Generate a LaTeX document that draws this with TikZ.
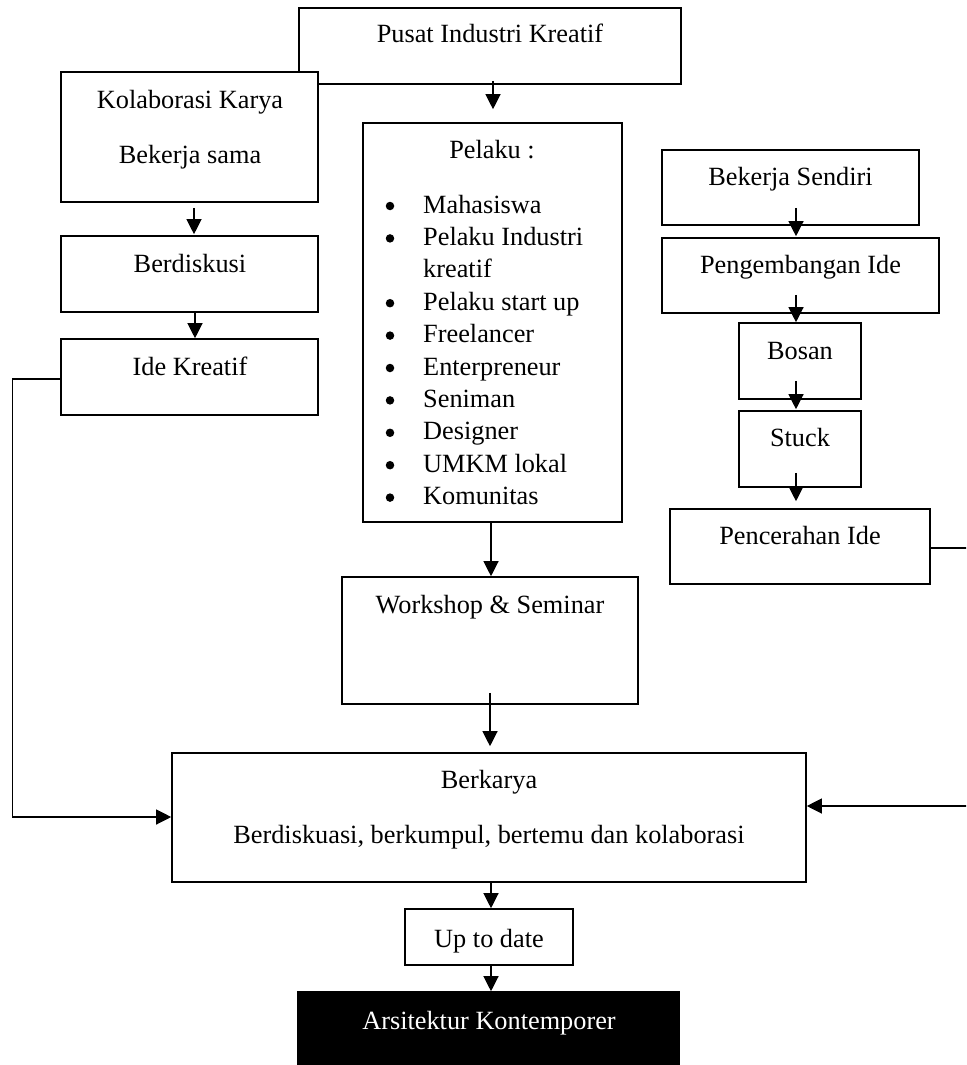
\documentclass[tikz,border=0pt]{standalone}
\usepackage{fontspec}
\setmainfont{Liberation Serif}
\usetikzlibrary{arrows.meta,fit}
\tikzset{
  box/.style={draw, line width=1.6pt, fill=white, inner sep=0pt},
  arr/.style={line width=1.2pt, -{Triangle[length=15pt,width=15pt]}},
  txt/.style={anchor=base, inner sep=0pt, font=\fontsize{26.3}{32}\selectfont},
  itm/.style={anchor=base west, inner sep=0pt, font=\fontsize{26.3}{32}\selectfont},
  bul/.style={circle, fill=black, inner sep=0pt, minimum size=8.5pt},
}
\begin{document}
\begin{tikzpicture}[x=1pt,y=-1pt]
\useasboundingbox (0,0) rectangle (966,1065);
\clip (0,0) rectangle (966,1065);

% boxes
\node[box, fit={(299,8)(681,84)}] (pusat) {};
\node[box, fit={(61,72)(318,202)}] (kolab) {};
\node[box, fit={(363,123)(622,522)}] (pelaku) {};
\node[box, fit={(61,236)(318,312)}] (diskusi) {};
\node[box, fit={(61,339)(318,415)}] (ide) {};
\node[box, fit={(662,150)(919,225)}] (sendiri) {};
\node[box, fit={(662,238)(939,313)}] (kembang) {};
\node[box, fit={(739,323)(861,399)}] (bosan) {};
\node[box, fit={(739,411)(861,487)}] (stuck) {};
\node[box, fit={(670,509)(930,584)}] (cerah) {};
\node[box, fit={(342,577)(638,704)}] (workshop) {};
\node[box, fit={(172,753)(806,882)}] (berkarya) {};
\node[box, fit={(405,909)(573,965)}] (uptodate) {};
\node[box, fit={(298,992)(679,1075)}, fill=black] (arsi) {};

% texts
\node[txt] (tpusat) at (490,43) {Pusat Industri Kreatif};
\node[txt] (tkolab1) at (190,108) {Kolaborasi Karya};
\node[txt] (tkolab2) at (190,163) {Bekerja sama};
\node[txt] (tdiskusi) at (190,272) {Berdiskusi};
\node[txt] (tide) at (190,375) {Ide Kreatif};
\node[txt] (tpelaku) at (492,158) {Pelaku :};
\foreach \i/\t/\b in {0/Mahasiswa/1, 1/Pelaku Industri/1, 2/kreatif/0, 3/Pelaku start up/1,
  4/Freelancer/1, 5/Enterpreneur/1, 6/Seniman/1, 7/Designer/1, 8/UMKM lokal/1, 9/Komunitas/1}{
  \node[itm] (item\i) at (423,213+32.4*\i) {\t};
  \ifnum\b=1 \node[bul] (bul\i) at (390,206+32.4*\i) {}; \fi
}
\node[txt] (tsendiri) at (790.5,185) {Bekerja Sendiri};
\node[txt] (tkembang) at (800.5,273) {Pengembangan Ide};
\node[txt] (tbosan) at (800,359) {Bosan};
\node[txt] (tstuck) at (800,446) {Stuck};
\node[txt] (tcerah) at (800,544) {Pencerahan Ide};
\node[txt] (tworkshop) at (490,613) {Workshop \& Seminar};
\node[txt] (tberkarya1) at (489,788) {Berkarya};
\node[txt] (tberkarya2) at (489,843) {Berdiskuasi, berkumpul, bertemu dan kolaborasi};
\node[txt] (tup) at (489,947) {Up to date};
\node[txt, text=white] (tarsi) at (489,1029) {Arsitektur Kontemporer};

% connectors
\draw[arr] ([shift={(3,-4)}]pusat.south) -- ([shift={(0.5,-13)}]pelaku.north);
\draw[arr] ([shift={(4.5,5)}]kolab.south) -- ([shift={(4.5,-1)}]diskusi.north);
\draw[arr] ([shift={(5.5,0)}]diskusi.south) -- ([shift={(5.5,0)}]ide.north);
\draw[arr] ([shift={(5.5,-18)}]sendiri.south) -- ([shift={(-4.5,-1)}]kembang.north);
\draw[arr] ([shift={(-4.5,-19)}]kembang.south) -- ([shift={(-4,0)}]bosan.north);
\draw[arr] ([shift={(-4,-19)}]bosan.south) -- ([shift={(-4,-1)}]stuck.north);
\draw[arr] ([shift={(-4,-15)}]stuck.south) -- ([shift={(-4,-7)}]cerah.north);
\draw[arr] ([shift={(-1.5,0)}]pelaku.south) -- ([shift={(1,0)}]workshop.north);
\draw[arr] ([shift={(0,-12)}]workshop.south) -- ([shift={(1,-6)}]berkarya.north);
\draw[arr] ([shift={(0,2)}]ide.west) -- ++(-48,0) |- ([shift={(0,-0.5)}]berkarya.west);
\draw[arr] ([shift={(0,1.5)}]cerah.east) -- ++(45,0) |- ([shift={(0,-11.5)}]berkarya.east);
\draw[arr] ([shift={(2,0)}]berkarya.south) -- ([shift={(2,0)}]uptodate.north);
\draw[arr] ([shift={(2,0)}]uptodate.south) -- ([shift={(2.5,0)}]arsi.north);
\end{tikzpicture}
\end{document}
